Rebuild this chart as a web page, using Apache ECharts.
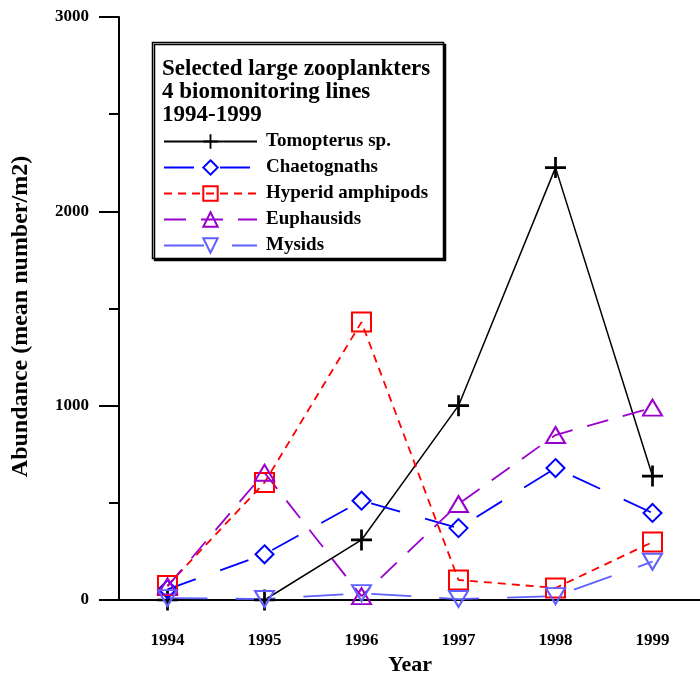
<!DOCTYPE html>
<html>
<head>
<meta charset="utf-8">
<script src="https://cdn.jsdelivr.net/npm/echarts@6/dist/echarts.min.js"></script>
<style>
  html, body { margin: 0; padding: 0; background: #fff; }
  #chart { width: 700px; height: 674px; }
</style>
</head>
<body>
<div id="chart"></div>
<script>
// Years sampled and mean abundance (number per m2) for each taxon
const years = ['1994', '1995', '1996', '1997', '1998', '1999'];
const tomopterus = [0, 0, 309, 1000, 2225, 638];
const chaetognaths = [55, 235, 511, 370, 679, 448];
const hyperids = [74, 604, 1430, 103, 62, 298];
const euphausids = [70, 655, 20, 494, 849, 990];
const mysids = [10, 5, 35, 5, 20, 197];
const yTicks = [0, 1000, 2000, 3000];

const serif = '"Liberation Serif", "DejaVu Serif", serif';
const plusPath = 'path://M-1.3,-10H1.3V10H-1.3Z M-10,-1.3H10V1.3H-10Z';
const hollow = 'rgba(0,0,0,0)';

function makeLine(name, data, color, dash, width, symbol, size, rotate, solidMarker) {
  return {
    name: name,
    type: 'line',
    data: data,
    clip: false,
    symbol: symbol,
    symbolSize: size,
    symbolRotate: rotate || 0,
    showAllSymbol: true,
    lineStyle: { color: color, width: width, type: dash },
    itemStyle: solidMarker
      ? { color: color, borderWidth: 0 }
      : { color: hollow, borderColor: color, borderWidth: 2 },
    emphasis: { disabled: true }
  };
}

const chart = echarts.init(document.getElementById('chart'), null, { renderer: 'canvas' });
chart.setOption({
  animation: false,
  backgroundColor: '#fff',
  grid: { left: 119, right: -1, top: 17, bottom: 74, containLabel: false, outerBoundsMode: 'none' },
  title: {
    text: 'Selected large zooplankters\n4 biomonitoring lines\n1994-1999',
    left: 162, top: 58, padding: 0,
    textStyle: { fontFamily: serif, fontWeight: 'bold', fontSize: 23, lineHeight: 23, color: '#000' }
  },
  graphic: [{
    type: 'rect',
    shape: { x: 152.5, y: 42.5, width: 291, height: 216 },
    style: { fill: '#fff', stroke: '#000', lineWidth: 1.5,
             shadowColor: '#000', shadowOffsetX: 2, shadowOffsetY: 2, shadowBlur: 0 },
    z: 0, zlevel: 0
  }],
  legend: {
    orient: 'vertical', left: 163, top: 132, padding: 0,
    itemWidth: 93, itemHeight: 18, itemGap: 7,
    selectedMode: false,
    textStyle: { fontFamily: serif, fontWeight: 'bold', fontSize: 19, lineHeight: 18, color: '#000', padding: [0, 0, 0, 4] },
    data: ['Tomopterus sp.', 'Chaetognaths', 'Hyperid amphipods', 'Euphausids', 'Mysids']
  },
  xAxis: {
    type: 'category', data: years, boundaryGap: true,
    name: 'Year', nameLocation: 'middle', nameGap: 51,
    nameTextStyle: { fontFamily: serif, fontWeight: 'bold', fontSize: 22, color: '#000' },
    axisLine: { lineStyle: { color: '#000', width: 2 } },
    axisTick: { alignWithLabel: true, length: 20, lineStyle: { color: '#000', width: 2 } },
    axisLabel: { margin: 32, fontFamily: serif, fontWeight: 'bold', fontSize: 17, color: '#000' },
    splitLine: { show: false }
  },
  yAxis: {
    type: 'value', min: yTicks[0], max: yTicks[yTicks.length - 1], interval: 1000,
    name: 'Abundance (mean number/m2)', nameLocation: 'middle', nameGap: 86, nameRotate: 90,
    nameTextStyle: { fontFamily: serif, fontWeight: 'bold', fontSize: 24, color: '#000', padding: [0, 16, 0, 0] },
    axisLine: { show: true, lineStyle: { color: '#000', width: 2 } },
    axisTick: { show: true, inside: false, length: 20, lineStyle: { color: '#000', width: 2 } },
    minorTick: { show: true, splitNumber: 2, length: 10, lineStyle: { color: '#000', width: 2 } },
    axisLabel: { margin: 30, fontFamily: serif, fontWeight: 'bold', fontSize: 17, color: '#000',
                 formatter: function (v) { return String(v); } },
    splitLine: { show: false }
  },
  series: [
    makeLine('Tomopterus sp.', tomopterus, '#000000', 'solid', 1.5, plusPath, 21, 0, true),
    makeLine('Chaetognaths', chaetognaths, '#0000ff', [30, 26], 1.8, 'diamond', [18, 18]),
    makeLine('Hyperid amphipods', hyperids, '#ff0000', [8, 6], 1.8, 'rect', [19, 19]),
    makeLine('Euphausids', euphausids, '#9900cc', [22, 15], 1.8, 'triangle', [19, 16]),
    makeLine('Mysids', mysids, '#6060ff', [40, 28], 1.8, 'triangle', [19, 16], 180)
  ]
});
</script>
</body>
</html>
